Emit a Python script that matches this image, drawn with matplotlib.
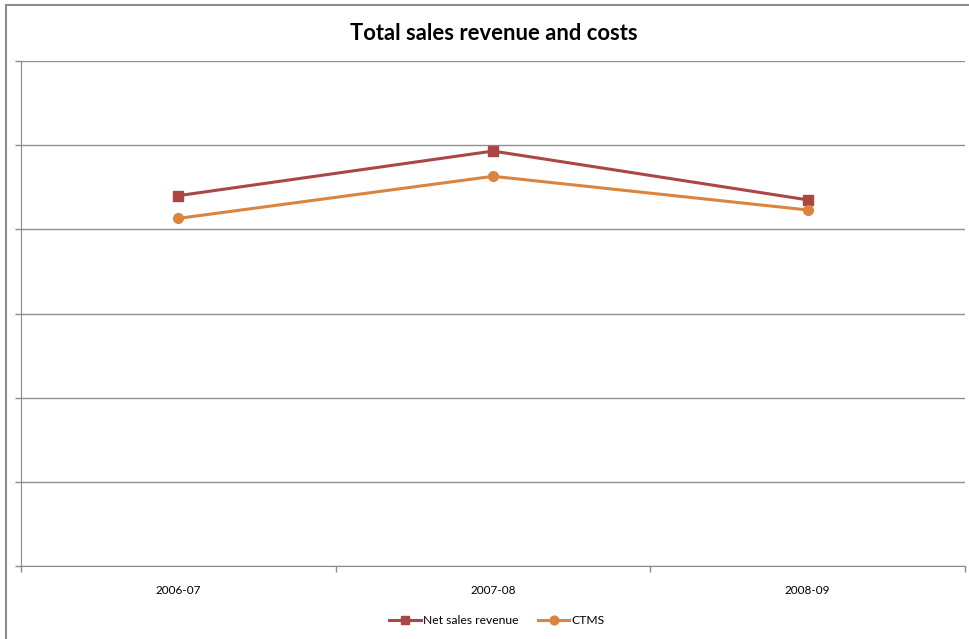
import matplotlib.pyplot as plt
from matplotlib.patches import Rectangle

years = ["2006-07", "2007-08", "2008-09"]
net_sales = [4.40, 4.93, 4.35]
ctms = [4.13, 4.63, 4.23]

plt.rcParams['font.family'] = ['Lato', 'DejaVu Sans']

W, H = 970, 639
fig = plt.figure(figsize=(W / 100, H / 100), dpi=100)
fig.patch.set_facecolor("white")

# chart frame
fig.patches.append(Rectangle((6 / W, -0.1), 1.2, 1 - 5 / H + 0.1, transform=fig.transFigure,
                             fill=False, edgecolor="#8c8c8c", linewidth=1.5))

ax = fig.add_axes([21 / W, (H - 566) / H, (965 - 21) / W, (566 - 61) / H])
x = range(len(years))
ax.plot(x, net_sales, color="#AA4643", lw=2.2, marker="s", ms=7, label="Net sales revenue")
ax.plot(x, ctms, color="#DB843D", lw=2.2, marker="o", ms=7, label="CTMS")

ax.set_xlim(-0.5, 2.5)
ax.set_ylim(0, 6)
ax.set_yticks(range(0, 7))
ax.set_yticklabels([])
ax.yaxis.grid(True, color="#8f8f8f", lw=1)
ax.set_axisbelow(True)
ax.tick_params(axis="y", length=4, color="#8a8a8a", width=1)

ax.set_xticks(list(x))
ax.set_xticklabels(years, fontsize=8.5)
ax.set_xticks([-0.5, 0.5, 1.5, 2.5], minor=True)
ax.tick_params(axis="x", which="major", length=0, pad=14)
ax.tick_params(axis="x", which="minor", length=4, color="#8a8a8a", width=1)

for s in ["top", "right"]:
    ax.spines[s].set_visible(False)
for s in ["left", "bottom"]:
    ax.spines[s].set_color("#8a8a8a")

fig.text(494 / W, 1 - 33 / H, "Total sales revenue and costs", ha="center", va="center",
         fontsize=15.8, fontweight="bold")

fig.legend(loc="center", bbox_to_anchor=(497 / W, 1 - 621 / H), ncol=2, frameon=False,
           fontsize=8.7, handlelength=2.6, columnspacing=1.6, handletextpad=0.2, markerscale=0.9)

fig.savefig("out.png", dpi=100)
